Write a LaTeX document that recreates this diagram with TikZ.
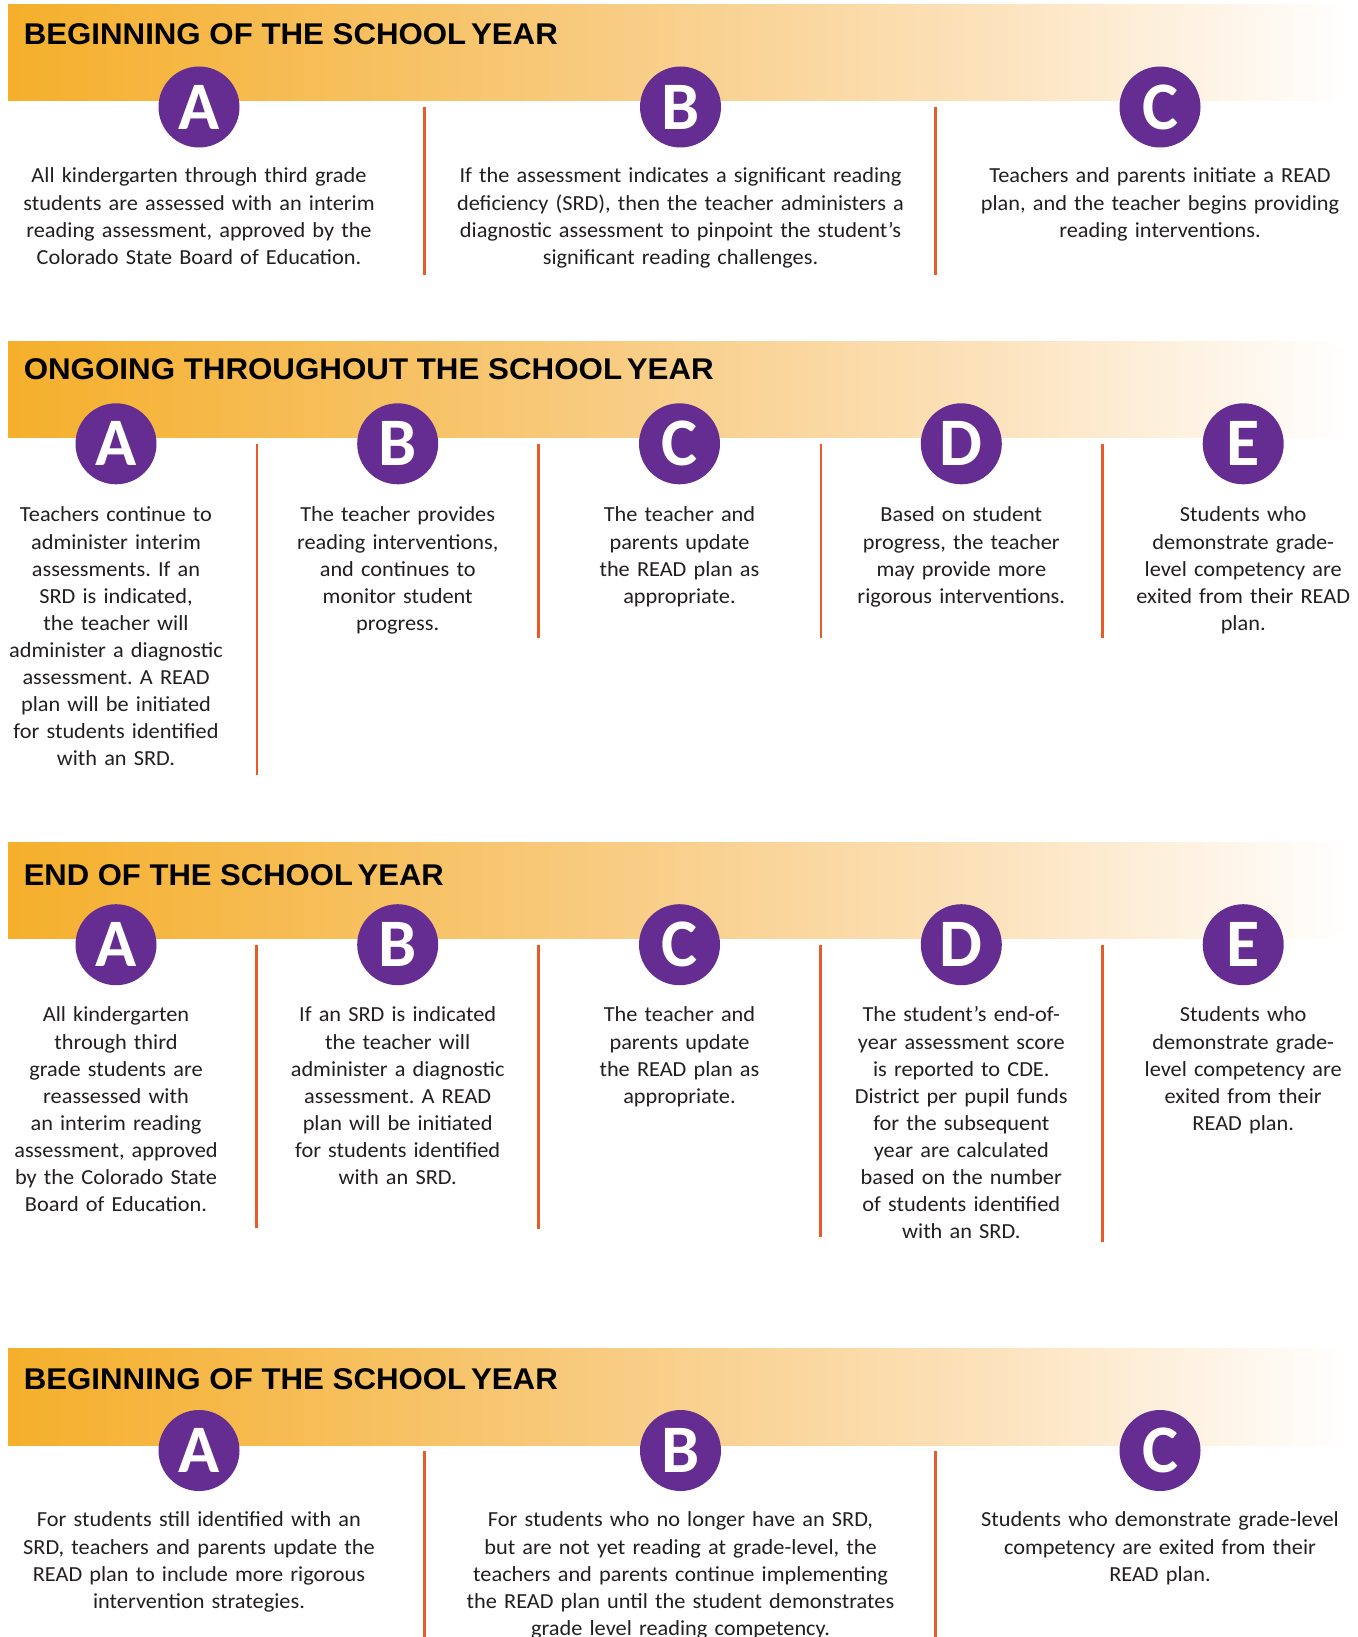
\documentclass[tikz,border=0pt]{standalone}
\usepackage{fontspec}
\usepackage{graphicx}
\setmainfont{Carlito}[FakeStretch=1.04]
\newfontfamily\letterfont{Carlito}
\newfontfamily\titlefont{Liberation Sans}
\definecolor{bo1}{HTML}{F5AF2B}
\definecolor{bo2}{HTML}{F8CB80}
\definecolor{bo3}{HTML}{FCE3BE}
\definecolor{purp}{HTML}{652D91}
\definecolor{divc}{HTML}{E85A28}
\definecolor{textc}{HTML}{231F20}
\pgfdeclarehorizontalshading{bannershade}{100bp}{color(0bp)=(bo1); color(25bp)=(bo1); color(47bp)=(bo2); color(62bp)=(bo3); color(75bp)=(white); color(100bp)=(white)}
\tikzset{
  banner/.style={shading=bannershade, draw=none},
  titletext/.style={anchor=base west, inner sep=0pt, text=black},
  letter/.style={circle, fill=purp, text=white, inner sep=0pt, minimum size=60.75pt, font=\letterfont\fontsize{51}{51}\selectfont\bfseries},
  divider/.style={draw=divc, line width=1.9pt},
  bodytext/.style={anchor=north, align=center, text width=420pt, inner sep=0pt, text=textc, font=\frenchspacing\fontsize{16.1}{20.33}\selectfont, execute at begin node=\strut},
}
\newcommand{\ttl}[2]{\resizebox{#1}{15.7pt}{\titlefont\bfseries #2}}
\begin{document}
\begin{tikzpicture}[x=0.75pt,y=-0.75pt]
\useasboundingbox (0,0) rectangle (1357,1637);
\fill[white] (0,0) rectangle (1357,1637);

% ---------- Section 1 ----------
\shade[banner] (8,5) rectangle (1350,101);
\node[titletext] (t1) at (23.5,45) {\ttl{400.5pt}{BEGINNING OF THE SCHOOL\hspace{0.15em}YEAR}};
\draw[divider] (424.5,107) -- (424.5,275);
\draw[divider] (935.5,107) -- (935.5,275);
\node[letter] (s1a) at (199,107) {A};
\node[letter] (s1b) at (680.5,107) {B};
\node[letter] (s1c) at (1160,107) {C};
\node[bodytext] (s1at) at (199,163.7) {All kindergarten through third grade\\students are assessed with an interim\\reading assessment, approved by the\\Colorado State Board of Education.};
\node[bodytext] (s1bt) at (680.5,163.7) {If the assessment indicates a significant reading\\deficiency (SRD), then the teacher administers a\\diagnostic assessment to pinpoint the student’s\\significant reading challenges.};
\node[bodytext] (s1ct) at (1160,163.7) {Teachers and parents initiate a READ\\plan, and the teacher begins providing\\reading interventions.};

% ---------- Section 2 ----------
\shade[banner] (8,341) rectangle (1350,437);
\node[titletext] (t2) at (23.5,379.3) {\ttl{517.5pt}{ONGOING THROUGHOUT THE SCHOOL\hspace{0.15em}YEAR}};
\draw[divider] (257,443.8) -- (257,775);
\draw[divider] (538.6,443.8) -- (538.6,637.7);
\draw[divider] (820.8,443.8) -- (820.8,637.7);
\draw[divider] (1102.7,443.8) -- (1102.7,637.7);
\node[letter] (s2a) at (116,443.8) {A};
\node[letter] (s2b) at (397.7,443.8) {B};
\node[letter] (s2c) at (679.5,443.8) {C};
\node[letter] (s2d) at (961.3,443.8) {D};
\node[letter] (s2e) at (1243.2,443.8) {E};
\node[bodytext] (s2at) at (116,502.7) {Teachers continue to\\administer interim\\assessments. If an\\SRD is indicated,\\the teacher will\\administer a diagnostic\\assessment. A READ\\plan will be initiated\\for students identified\\with an SRD.};
\node[bodytext] (s2bt) at (397.7,502.7) {The teacher provides\\reading interventions,\\and continues to\\monitor student\\progress.};
\node[bodytext] (s2ct) at (679.5,502.7) {The teacher and\\parents update\\the READ plan as\\appropriate.};
\node[bodytext] (s2dt) at (961.3,502.7) {Based on student\\progress, the teacher\\may provide more\\rigorous interventions.};
\node[bodytext] (s2et) at (1243.2,502.7) {Students who\\demonstrate grade-\\level competency are\\exited from their READ\\plan.};

% ---------- Section 3 ----------
\shade[banner] (8,842.5) rectangle (1350,938.5);
\node[titletext] (t3) at (23.5,885) {\ttl{315pt}{END OF THE SCHOOL\hspace{0.15em}YEAR}};
\draw[divider] (256.7,944.7) -- (256.7,1228.3);
\draw[divider] (538.7,944.7) -- (538.7,1229);
\draw[divider] (820.6,944.7) -- (820.6,1237.3);
\draw[divider] (1102.5,944.7) -- (1102.5,1241.7);
\node[letter] (s3a) at (116,944.7) {A};
\node[letter] (s3b) at (397.7,944.7) {B};
\node[letter] (s3c) at (679.5,944.7) {C};
\node[letter] (s3d) at (961.3,944.7) {D};
\node[letter] (s3e) at (1243.2,944.7) {E};
\node[bodytext] (s3at) at (116,1002.7) {All kindergarten\\through third\\grade students are\\reassessed with\\an interim reading\\assessment, approved\\by the Colorado State\\Board of Education.};
\node[bodytext] (s3bt) at (397.7,1002.7) {If an SRD is indicated\\the teacher will\\administer a diagnostic\\assessment. A READ\\plan will be initiated\\for students identified\\with an SRD.};
\node[bodytext] (s3ct) at (679.5,1002.7) {The teacher and\\parents update\\the READ plan as\\appropriate.};
\node[bodytext] (s3dt) at (961.3,1002.7) {The student’s end-of-\\year assessment score\\is reported to CDE.\\District per pupil funds\\for the subsequent\\year are calculated\\based on the number\\of students identified\\with an SRD.};
\node[bodytext] (s3et) at (1243.2,1002.7) {Students who\\demonstrate grade-\\level competency are\\exited from their\\READ plan.};

% ---------- Section 4 ----------
\shade[banner] (8,1348) rectangle (1350,1445);
\node[titletext] (t4) at (23.5,1389.3) {\ttl{400.5pt}{BEGINNING OF THE SCHOOL\hspace{0.15em}YEAR}};
\draw[divider] (424.5,1451) -- (424.5,1640);
\draw[divider] (935.5,1451) -- (935.5,1640);
\node[letter] (s4a) at (199,1450.5) {A};
\node[letter] (s4b) at (680.5,1450.5) {B};
\node[letter] (s4c) at (1160,1450.5) {C};
\node[bodytext] (s4at) at (199,1507.7) {For students still identified with an\\SRD, teachers and parents update the\\READ plan to include more rigorous\\intervention strategies.};
\node[bodytext] (s4bt) at (680.5,1507.7) {For students who no longer have an SRD,\\but are not yet reading at grade-level, the\\teachers and parents continue implementing\\the READ plan until the student demonstrates\\grade level reading competency.};
\node[bodytext] (s4ct) at (1160,1507.7) {Students who demonstrate grade-level\\competency are exited from their\\READ plan.};
\end{tikzpicture}
\end{document}
